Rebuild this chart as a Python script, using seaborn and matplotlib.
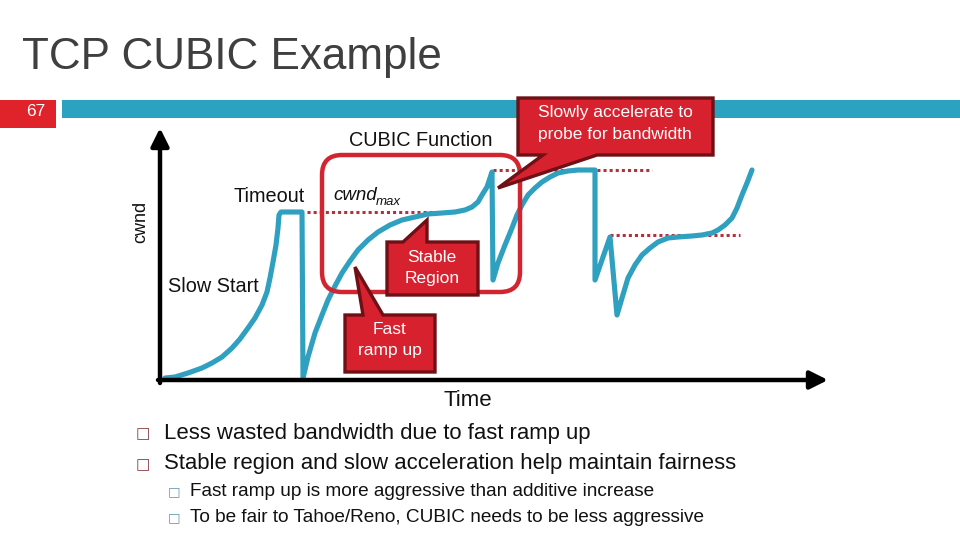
import matplotlib
matplotlib.use("Agg")
import matplotlib.pyplot as plt
from matplotlib.patches import Polygon, FancyBboxPatch, Rectangle
import seaborn as sns
import pandas as pd

sns.set_theme(style="white")
plt.rcParams['font.family'] = ['Liberation Sans', 'DejaVu Sans']

# ---- data (chart units: time, cwnd) ----
time = [7, 17, 30, 44, 54, 64, 74, 82, 90, 97, 104, 109, 112, 115, 118, 120,
        121, 123, 144, 145,
        150, 157, 164, 170, 177, 184, 192, 200, 210, 220, 232, 244, 257, 270,
        284, 297, 307, 314, 320, 324, 329, 332, 334, 335,
        340, 347, 354, 359, 364, 370, 377, 384, 392, 400, 410, 420, 437, 437,
        452, 459, 464, 470, 477, 484, 492, 500, 510, 520, 534, 544, 554, 560,
        567, 574, 579, 584, 589, 594]
cwnd = [2, 3, 7, 12, 17, 23, 32, 41, 52, 62, 75, 88, 102, 118, 135, 152,
        165, 168, 168, 2,
        23, 47, 65, 80, 94, 107, 119, 130, 140, 148, 155, 160, 163, 166,
        167, 168, 170, 173, 178, 185, 193, 202, 208, 100,
        117, 135, 152, 165, 175, 185, 192, 198, 203, 207, 209, 210, 210, 100,
        143, 65, 82, 102, 115, 125, 132, 138, 142, 143, 144, 145, 147, 150,
        155, 162, 172, 185, 197, 210]
cwnd_max_level = [168, 210, 145]
cwnd_max_start = [149, 335, 452]
cwnd_max_end = [275, 494, 582]

title = "TCP CUBIC Example"
slide_no = "67"
bullets = ["Less wasted bandwidth due to fast ramp up",
           "Stable region and slow acceleration help maintain fairness"]
sub_bullets = ["Fast ramp up is more aggressive than additive increase",
               "To be fair to Tahoe/Reno, CUBIC needs to be less aggressive"]

CURVE = "#2fa0bf"
TEAL = "#2aa2c0"
RED = "#d8212e"
DARK = "#6e1016"
DOT = "#b3303c"

fig = plt.figure(figsize=(9.6, 5.4), dpi=100)
W, H = 960, 540

# chart axes
ax = fig.add_axes([160 / W, (H - 380) / H, (828 - 160) / W, (380 - 128) / H])
ax.set_xlim(2, 670)
ax.set_ylim(0, 252)
ax.set_axis_off()

df = pd.DataFrame({"time": time, "cwnd": cwnd})
sns.lineplot(data=df, x="time", y="cwnd", sort=False, estimator=None,
             color=CURVE, lw=3.7, ax=ax, zorder=3)
for lv, a, b in zip(cwnd_max_level, cwnd_max_start, cwnd_max_end):
    sns.lineplot(x=[a, b], y=[lv, lv], estimator=None, sort=False, color=DOT,
                 lw=2.2, linestyle=(0, (1, 1)), ax=ax, zorder=2)
    ax.lines[-1].set_dash_capstyle("butt")

arrow = dict(arrowstyle="-|>,head_width=0.45,head_length=0.9", lw=3.2,
             color="black", shrinkA=0, shrinkB=0)
ax.annotate("", xy=(0, 1), xytext=(0, -0.012), xycoords="axes fraction",
            arrowprops=arrow, annotation_clip=False)
ax.annotate("", xy=(1, 0), xytext=(-0.003, 0), xycoords="axes fraction",
            arrowprops=arrow, annotation_clip=False)

# overlay axes in pixel coordinates for slide decorations
ov = fig.add_axes([0, 0, 1, 1], zorder=5)
ov.set_xlim(0, W)
ov.set_ylim(H, 0)
ov.set_axis_off()
ov.patch.set_alpha(0)

ov.text(22, 58, title, fontsize=31.7, color="#3f3f3f", va="center", ha="left")
ov.add_patch(Rectangle((0, 100), 56, 28, color="#e0232b", lw=0))
ov.add_patch(Rectangle((62, 100), 898, 18, color=TEAL, lw=0))
ov.text(36, 111, slide_no, fontsize=12.5, color="white", ha="center", va="center")

# CUBIC function rounded box
ov.add_patch(FancyBboxPatch((322, 155), 198, 137,
                            boxstyle="round,pad=0,rounding_size=20",
                            fill=False, ec="#d3252f", lw=3.2, zorder=4))

def callout(pts):
    ov.add_patch(Polygon(pts, closed=True, fc=RED, ec=DARK, lw=2.4,
                         joinstyle="miter", zorder=6))

callout([(518, 98), (713, 98), (713, 155), (597, 155), (498, 188),
         (543, 155), (518, 155)])
callout([(387, 242), (403, 242), (427, 220), (427, 242), (478, 242),
         (478, 295), (387, 295)])
callout([(345, 315), (363, 315), (355, 267), (383, 315), (435, 315),
         (435, 372), (345, 372)])

ct = dict(color="white", fontsize=12.5, ha="center", va="center", zorder=7)
ov.text(615, 113, "Slowly accelerate to", **ct)
ov.text(615, 135, "probe for bandwidth", **ct)
ov.text(432, 258, "Stable", **ct)
ov.text(432, 279, "Region", **ct)
ov.text(390, 330, "Fast", **ct)
ov.text(390, 351, "ramp up", **ct)

lt = dict(color="#111111", fontsize=14.3, ha="left", va="center")
ov.text(349, 140, "CUBIC Function", **lt)
ov.text(233, 197, "Timeout", **lt)
ov.text(168, 286, "Slow Start", **lt)
ov.text(141, 222, "cwnd", color="#111111", fontsize=13, rotation=90,
        ha="center", va="center")
ov.text(333, 196, "cwnd", color="#111111", fontsize=13.5, style="italic",
        ha="left", va="center")
ov.text(376, 202, "max", color="#111111", fontsize=9.5, style="italic",
        ha="left", va="center")
ov.text(444, 400, "Time", color="#111111", fontsize=16, ha="left", va="center")

for y, s in zip([433, 464], bullets):
    ov.text(143, y + 1, "□", fontsize=11, color="#8a3a44", ha="center",
            va="center", family="DejaVu Sans")
    ov.text(164, y, s, fontsize=15.9, color="#111111", ha="left", va="center")
for y, s in zip([491, 517], sub_bullets):
    ov.text(174, y + 1, "□", fontsize=9.5, color="#5a98a8", ha="center",
            va="center", family="DejaVu Sans")
    ov.text(190, y, s, fontsize=13.7, color="#111111", ha="left", va="center")

fig.savefig("out.png", dpi=100)
